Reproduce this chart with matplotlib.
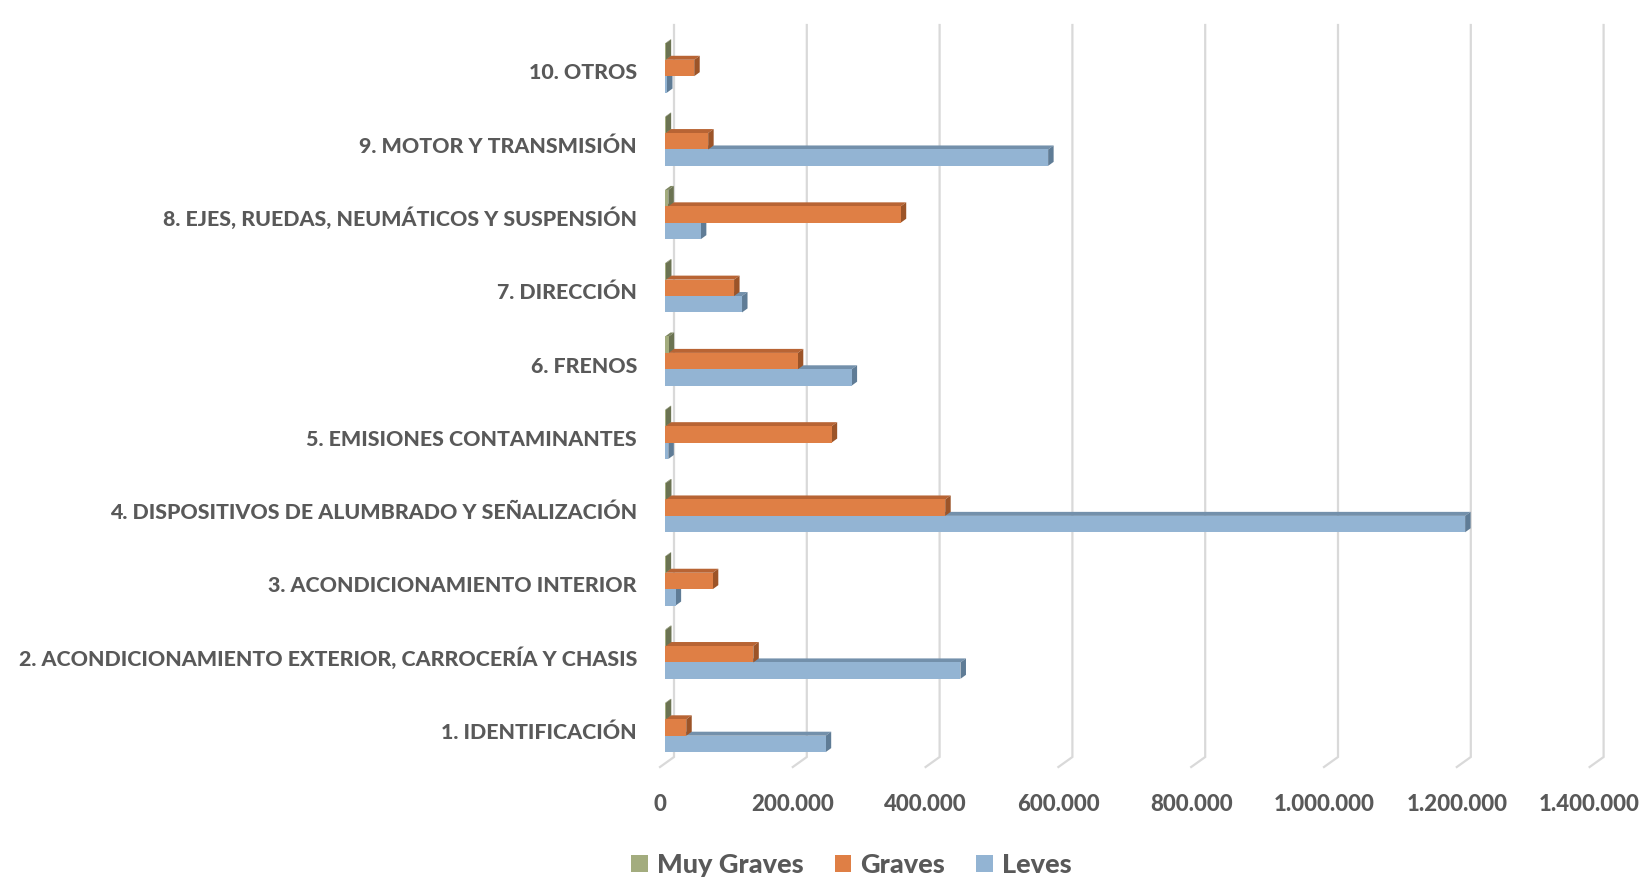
import numpy as np
import matplotlib.pyplot as plt
from matplotlib.patches import Polygon, Rectangle, Patch

plt.rcParams['font.family'] = ['Lato', 'DejaVu Sans']

categories = ["1. IDENTIFICACIÓN",
              "2. ACONDICIONAMIENTO EXTERIOR, CARROCERÍA Y CHASIS",
              "3. ACONDICIONAMIENTO INTERIOR",
              "4. DISPOSITIVOS DE ALUMBRADO Y SEÑALIZACIÓN",
              "5. EMISIONES CONTAMINANTES",
              "6. FRENOS",
              "7. DIRECCIÓN",
              "8. EJES, RUEDAS, NEUMÁTICOS Y SUSPENSIÓN",
              "9. MOTOR Y TRANSMISIÓN",
              "10. OTROS"]
muy_graves = [1200, 1500, 1000, 1500, 1000, 5500, 1500, 5000, 1000, 1000]
graves = [32000, 133000, 72000, 422000, 251000, 200000, 104000, 355000, 65000, 44000]
leves = [242000, 445000, 16000, 1205000, 5000, 281000, 116000, 54000, 577000, 3000]
series_names = ["Muy Graves", "Graves", "Leves"]
xticks = [0, 200000, 400000, 600000, 800000, 1000000, 1200000, 1400000]
xtick_labels = ["0", "200.000", "400.000", "600.000", "800.000",
                "1.000.000", "1.200.000", "1.400.000"]

# face colours: front, top, side
col_green = ("#A3AC7E", "#7D8660", "#6B7352")
col_orange = ("#DF7F45", "#B86434", "#9C5428")
col_blue = ("#93B4D3", "#7390AB", "#5F7C96")
txt_col = "#595959"

W, H = 1652, 880
fig = plt.figure(figsize=(W / 100, H / 100), dpi=100)
ax = fig.add_axes([0, 0, 1, 1])

# pixel layout -> data limits
x0_px = 665.0
upx = 200000 / 132.8          # value units per pixel
y1_px = 727.5                 # pixel row of category 1
upy = 1 / 73.28               # category units per pixel
ax.set_xlim(-x0_px * upx, (W - x0_px) * upx)
ax.set_ylim(1 - (H - y1_px) * upy, 1 + y1_px * upy)
ax.axis("off")

pos = np.arange(1, len(categories) + 1)
h = 16.4 * upy
bdx, bdy = 5.5 * upx, 4 * upy


def bar3d(v, yb, cols):
    front, top, side = cols
    yt = yb + h
    ax.add_patch(Polygon([(0, yt), (v, yt), (v + bdx, yt + bdy), (bdx, yt + bdy)],
                         closed=True, facecolor=top, edgecolor="none", zorder=2))
    ax.add_patch(Polygon([(v, yb), (v, yt), (v + bdx, yt + bdy), (v + bdx, yb + bdy)],
                         closed=True, facecolor=side, edgecolor="none", zorder=2))
    ax.add_patch(Rectangle((0, yb), v, h, facecolor=front, edgecolor="none", zorder=2))


# back wall gridlines with floor slant
wall_dx = 9 * upx
y_top = 1 + (y1_px - 25) * upy
y_bot = 1 - (757 - y1_px) * upy
for t in xticks:
    ax.plot([t + wall_dx - 14 * upx, t + wall_dx, t + wall_dx],
            [y_bot - 10 * upy, y_bot, y_top],
            color="#d9d9d9", lw=1.6, zorder=0, solid_joinstyle="miter")

for i, c in enumerate(pos):
    bar3d(leves[i], c - 1.5 * h, col_blue)
    bar3d(graves[i], c - 0.5 * h, col_orange)
    bar3d(muy_graves[i], c + 0.5 * h, col_green)
    ax.text(-28 * upx, c - 11.5 * upy, categories[i], ha="right", va="baseline",
            fontsize=15.4, fontweight="black", color=txt_col)

y_lab = 1 - (810.5 - y1_px) * upy
for t, lab in zip(xticks, xtick_labels):
    ax.text(t - 5 * upx, y_lab, lab, ha="center", va="baseline",
            fontsize=16, fontweight="black", color=txt_col)

handles = [Patch(facecolor=col_green[0]), Patch(facecolor=col_orange[0]),
           Patch(facecolor=col_blue[0])]
leg = fig.legend(handles, series_names, loc="center", ncol=3, frameon=False,
                 bbox_to_anchor=(851.5 / W, 1 - 865 / H),
                 prop={"size": 19.5, "weight": "black"},
                 handlelength=0.6, handleheight=0.6, handletextpad=0.35,
                 columnspacing=1.15)
for t in leg.get_texts():
    t.set_color(txt_col)

fig.savefig("out.png", dpi=100)
